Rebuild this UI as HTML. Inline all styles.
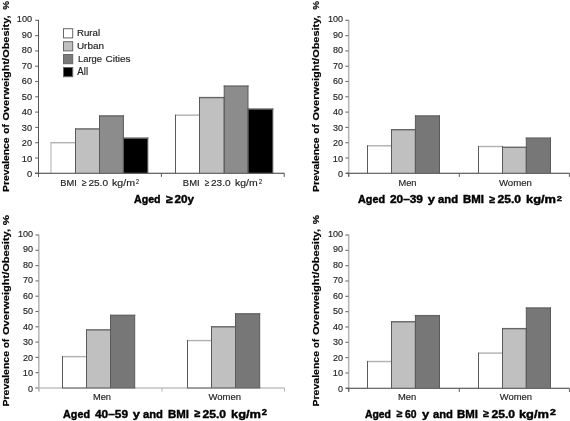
<!DOCTYPE html>
<html><head><meta charset="utf-8"><style>
html,body{margin:0;padding:0;background:#fff;}
svg{display:block;will-change:transform;}
text{font-family:"Liberation Sans", sans-serif;}
</style></head><body>
<svg width="570" height="421" viewBox="0 0 570 421">
<rect width="570" height="421" fill="#fff"/>
<rect x="38.00" y="19.80" width="1.0" height="156.80" fill="#555555"/>
<rect x="35.20" y="19.75" width="3" height="1.1" fill="#6a6a6a"/>
<rect x="35.20" y="35.05" width="3" height="1.1" fill="#6a6a6a"/>
<rect x="35.20" y="50.35" width="3" height="1.1" fill="#6a6a6a"/>
<rect x="35.20" y="65.65" width="3" height="1.1" fill="#6a6a6a"/>
<rect x="35.20" y="80.95" width="3" height="1.1" fill="#6a6a6a"/>
<rect x="35.20" y="96.25" width="3" height="1.1" fill="#6a6a6a"/>
<rect x="35.20" y="111.55" width="3" height="1.1" fill="#6a6a6a"/>
<rect x="35.20" y="126.85" width="3" height="1.1" fill="#6a6a6a"/>
<rect x="35.20" y="142.15" width="3" height="1.1" fill="#6a6a6a"/>
<rect x="35.20" y="157.45" width="3" height="1.1" fill="#6a6a6a"/>
<rect x="35.20" y="172.75" width="3" height="1.1" fill="#6a6a6a"/>
<rect x="35.00" y="172.70" width="249.50" height="1.2" fill="#5a5a5a"/>
<rect x="38.00" y="173.30" width="1" height="3.6" fill="#5a5a5a"/>
<rect x="160.90" y="173.30" width="1" height="3.6" fill="#5a5a5a"/>
<rect x="283.70" y="173.30" width="1" height="3.6" fill="#5a5a5a"/>
<rect x="51.00" y="142.70" width="24.50" height="30.60" fill="#ffffff"/>
<rect x="75.50" y="128.93" width="24.00" height="44.37" fill="#c0c0c0"/>
<rect x="99.50" y="115.93" width="23.90" height="57.38" fill="#8c8c8c"/>
<rect x="123.40" y="138.11" width="24.40" height="35.19" fill="#000000"/>
<rect x="50.50" y="142.00" width="25.50" height="1.4" fill="#b0b0b0"/>
<rect x="75.00" y="128.23" width="25.00" height="1.4" fill="#666666"/>
<rect x="99.00" y="115.23" width="24.90" height="1.4" fill="#666666"/>
<rect x="122.90" y="137.41" width="25.40" height="1.4" fill="#666666"/>
<rect x="50.50" y="142.20" width="1" height="31.10" fill="#b0b0b0"/>
<rect x="75.00" y="142.20" width="1" height="31.10" fill="#5a5a5a"/>
<rect x="75.00" y="128.43" width="1" height="44.87" fill="#5a5a5a"/>
<rect x="99.00" y="128.43" width="1" height="44.87" fill="#5a5a5a"/>
<rect x="99.00" y="115.43" width="1" height="57.88" fill="#5a5a5a"/>
<rect x="122.90" y="115.43" width="1" height="57.88" fill="#5a5a5a"/>
<rect x="122.90" y="137.61" width="1" height="35.69" fill="#5a5a5a"/>
<rect x="147.30" y="137.61" width="1" height="35.69" fill="#5a5a5a"/>
<rect x="50.50" y="172.70" width="97.80" height="1.1" fill="#666666"/>
<rect x="175.50" y="115.16" width="24.00" height="58.14" fill="#ffffff"/>
<rect x="199.50" y="97.57" width="24.70" height="75.73" fill="#c0c0c0"/>
<rect x="224.20" y="86.09" width="23.80" height="87.21" fill="#8c8c8c"/>
<rect x="248.00" y="109.04" width="24.80" height="64.26" fill="#000000"/>
<rect x="175.00" y="114.46" width="25.00" height="1.4" fill="#b0b0b0"/>
<rect x="199.00" y="96.87" width="25.70" height="1.4" fill="#666666"/>
<rect x="223.70" y="85.39" width="24.80" height="1.4" fill="#666666"/>
<rect x="247.50" y="108.34" width="25.80" height="1.4" fill="#666666"/>
<rect x="175.00" y="114.66" width="1" height="58.64" fill="#5a5a5a"/>
<rect x="199.00" y="114.66" width="1" height="58.64" fill="#5a5a5a"/>
<rect x="199.00" y="97.07" width="1" height="76.23" fill="#5a5a5a"/>
<rect x="223.70" y="97.07" width="1" height="76.23" fill="#5a5a5a"/>
<rect x="223.70" y="85.59" width="1" height="87.71" fill="#5a5a5a"/>
<rect x="247.50" y="85.59" width="1" height="87.71" fill="#5a5a5a"/>
<rect x="247.50" y="108.54" width="1" height="64.76" fill="#5a5a5a"/>
<rect x="272.30" y="108.54" width="1" height="64.76" fill="#5a5a5a"/>
<rect x="175.00" y="172.70" width="98.30" height="1.1" fill="#666666"/>
<rect x="347.95" y="19.80" width="1.5" height="156.80" fill="#b4b4b4"/>
<rect x="345.40" y="19.75" width="3" height="1.1" fill="#6a6a6a"/>
<rect x="345.40" y="35.05" width="3" height="1.1" fill="#6a6a6a"/>
<rect x="345.40" y="50.35" width="3" height="1.1" fill="#6a6a6a"/>
<rect x="345.40" y="65.65" width="3" height="1.1" fill="#6a6a6a"/>
<rect x="345.40" y="80.95" width="3" height="1.1" fill="#6a6a6a"/>
<rect x="345.40" y="96.25" width="3" height="1.1" fill="#6a6a6a"/>
<rect x="345.40" y="111.55" width="3" height="1.1" fill="#6a6a6a"/>
<rect x="345.40" y="126.85" width="3" height="1.1" fill="#6a6a6a"/>
<rect x="345.40" y="142.15" width="3" height="1.1" fill="#6a6a6a"/>
<rect x="345.40" y="157.45" width="3" height="1.1" fill="#6a6a6a"/>
<rect x="345.40" y="172.75" width="3" height="1.1" fill="#6a6a6a"/>
<rect x="346.00" y="172.70" width="223.50" height="1.2" fill="#5a5a5a"/>
<rect x="348.20" y="173.30" width="1" height="3.6" fill="#5a5a5a"/>
<rect x="458.80" y="173.30" width="1" height="3.6" fill="#5a5a5a"/>
<rect x="568.90" y="173.30" width="1" height="3.6" fill="#5a5a5a"/>
<rect x="367.50" y="145.76" width="24.00" height="27.54" fill="#ffffff"/>
<rect x="391.50" y="129.69" width="23.90" height="43.61" fill="#c0c0c0"/>
<rect x="415.40" y="115.93" width="24.10" height="57.38" fill="#777777"/>
<rect x="367.00" y="145.06" width="25.00" height="1.4" fill="#b0b0b0"/>
<rect x="391.00" y="129.00" width="24.90" height="1.4" fill="#666666"/>
<rect x="414.90" y="115.23" width="25.10" height="1.4" fill="#666666"/>
<rect x="367.00" y="145.26" width="1" height="28.04" fill="#5a5a5a"/>
<rect x="391.00" y="145.26" width="1" height="28.04" fill="#5a5a5a"/>
<rect x="391.00" y="129.19" width="1" height="44.11" fill="#5a5a5a"/>
<rect x="414.90" y="129.19" width="1" height="44.11" fill="#5a5a5a"/>
<rect x="414.90" y="115.43" width="1" height="57.88" fill="#5a5a5a"/>
<rect x="439.00" y="115.43" width="1" height="57.88" fill="#5a5a5a"/>
<rect x="367.00" y="172.70" width="73.00" height="1.1" fill="#666666"/>
<rect x="478.50" y="146.53" width="24.00" height="26.78" fill="#ffffff"/>
<rect x="502.50" y="147.29" width="23.80" height="26.01" fill="#c0c0c0"/>
<rect x="526.30" y="138.11" width="24.20" height="35.19" fill="#777777"/>
<rect x="478.00" y="145.83" width="25.00" height="1.4" fill="#b0b0b0"/>
<rect x="502.00" y="146.59" width="24.80" height="1.4" fill="#666666"/>
<rect x="525.80" y="137.41" width="25.20" height="1.4" fill="#666666"/>
<rect x="478.00" y="146.03" width="1" height="27.28" fill="#5a5a5a"/>
<rect x="502.00" y="146.03" width="1" height="27.28" fill="#5a5a5a"/>
<rect x="502.00" y="146.79" width="1" height="26.51" fill="#5a5a5a"/>
<rect x="525.80" y="146.79" width="1" height="26.51" fill="#5a5a5a"/>
<rect x="525.80" y="137.61" width="1" height="35.69" fill="#5a5a5a"/>
<rect x="550.00" y="137.61" width="1" height="35.69" fill="#5a5a5a"/>
<rect x="478.00" y="172.70" width="73.00" height="1.1" fill="#666666"/>
<rect x="38.05" y="234.50" width="1.5" height="156.80" fill="#b4b4b4"/>
<rect x="35.50" y="234.45" width="3" height="1.1" fill="#6a6a6a"/>
<rect x="35.50" y="249.75" width="3" height="1.1" fill="#6a6a6a"/>
<rect x="35.50" y="265.05" width="3" height="1.1" fill="#6a6a6a"/>
<rect x="35.50" y="280.35" width="3" height="1.1" fill="#6a6a6a"/>
<rect x="35.50" y="295.65" width="3" height="1.1" fill="#6a6a6a"/>
<rect x="35.50" y="310.95" width="3" height="1.1" fill="#6a6a6a"/>
<rect x="35.50" y="326.25" width="3" height="1.1" fill="#6a6a6a"/>
<rect x="35.50" y="341.55" width="3" height="1.1" fill="#6a6a6a"/>
<rect x="35.50" y="356.85" width="3" height="1.1" fill="#6a6a6a"/>
<rect x="35.50" y="372.15" width="3" height="1.1" fill="#6a6a6a"/>
<rect x="35.50" y="387.45" width="3" height="1.1" fill="#6a6a6a"/>
<rect x="35.00" y="387.40" width="249.50" height="1.2" fill="#b4b4b4"/>
<rect x="38.30" y="388.00" width="1" height="3.6" fill="#b4b4b4"/>
<rect x="161.50" y="388.00" width="1" height="3.6" fill="#b4b4b4"/>
<rect x="284.00" y="388.00" width="1" height="3.6" fill="#b4b4b4"/>
<rect x="62.50" y="356.63" width="24.00" height="31.37" fill="#ffffff"/>
<rect x="86.50" y="329.86" width="24.00" height="58.14" fill="#c0c0c0"/>
<rect x="110.50" y="315.32" width="24.20" height="72.68" fill="#777777"/>
<rect x="62.00" y="355.94" width="25.00" height="1.4" fill="#b0b0b0"/>
<rect x="86.00" y="329.16" width="25.00" height="1.4" fill="#666666"/>
<rect x="110.00" y="314.62" width="25.20" height="1.4" fill="#666666"/>
<rect x="62.00" y="356.13" width="1" height="31.87" fill="#5a5a5a"/>
<rect x="86.00" y="356.13" width="1" height="31.87" fill="#5a5a5a"/>
<rect x="86.00" y="329.36" width="1" height="58.64" fill="#5a5a5a"/>
<rect x="110.00" y="329.36" width="1" height="58.64" fill="#5a5a5a"/>
<rect x="110.00" y="314.82" width="1" height="73.18" fill="#5a5a5a"/>
<rect x="134.20" y="314.82" width="1" height="73.18" fill="#5a5a5a"/>
<rect x="62.00" y="387.40" width="73.20" height="1.1" fill="#666666"/>
<rect x="187.50" y="340.57" width="24.00" height="47.43" fill="#ffffff"/>
<rect x="211.50" y="326.80" width="24.00" height="61.20" fill="#c0c0c0"/>
<rect x="235.50" y="313.80" width="24.20" height="74.20" fill="#777777"/>
<rect x="187.00" y="339.87" width="25.00" height="1.4" fill="#b0b0b0"/>
<rect x="211.00" y="326.10" width="25.00" height="1.4" fill="#666666"/>
<rect x="235.00" y="313.10" width="25.20" height="1.4" fill="#666666"/>
<rect x="187.00" y="340.07" width="1" height="47.93" fill="#5a5a5a"/>
<rect x="211.00" y="340.07" width="1" height="47.93" fill="#5a5a5a"/>
<rect x="211.00" y="326.30" width="1" height="61.70" fill="#5a5a5a"/>
<rect x="235.00" y="326.30" width="1" height="61.70" fill="#5a5a5a"/>
<rect x="235.00" y="313.30" width="1" height="74.70" fill="#5a5a5a"/>
<rect x="259.20" y="313.30" width="1" height="74.70" fill="#5a5a5a"/>
<rect x="187.00" y="387.40" width="73.20" height="1.1" fill="#666666"/>
<rect x="347.95" y="234.50" width="1.5" height="157.10" fill="#b4b4b4"/>
<rect x="345.40" y="234.45" width="3" height="1.1" fill="#6a6a6a"/>
<rect x="345.40" y="249.78" width="3" height="1.1" fill="#6a6a6a"/>
<rect x="345.40" y="265.11" width="3" height="1.1" fill="#6a6a6a"/>
<rect x="345.40" y="280.44" width="3" height="1.1" fill="#6a6a6a"/>
<rect x="345.40" y="295.77" width="3" height="1.1" fill="#6a6a6a"/>
<rect x="345.40" y="311.10" width="3" height="1.1" fill="#6a6a6a"/>
<rect x="345.40" y="326.43" width="3" height="1.1" fill="#6a6a6a"/>
<rect x="345.40" y="341.76" width="3" height="1.1" fill="#6a6a6a"/>
<rect x="345.40" y="357.09" width="3" height="1.1" fill="#6a6a6a"/>
<rect x="345.40" y="372.42" width="3" height="1.1" fill="#6a6a6a"/>
<rect x="345.40" y="387.75" width="3" height="1.1" fill="#6a6a6a"/>
<rect x="346.00" y="387.70" width="223.50" height="1.2" fill="#5a5a5a"/>
<rect x="348.20" y="388.30" width="1" height="3.6" fill="#5a5a5a"/>
<rect x="458.80" y="388.30" width="1" height="3.6" fill="#5a5a5a"/>
<rect x="568.90" y="388.30" width="1" height="3.6" fill="#5a5a5a"/>
<rect x="367.50" y="361.53" width="24.00" height="26.77" fill="#ffffff"/>
<rect x="391.50" y="321.75" width="23.90" height="66.56" fill="#c0c0c0"/>
<rect x="415.40" y="315.62" width="24.10" height="72.68" fill="#777777"/>
<rect x="367.00" y="360.83" width="25.00" height="1.4" fill="#b0b0b0"/>
<rect x="391.00" y="321.05" width="24.90" height="1.4" fill="#666666"/>
<rect x="414.90" y="314.93" width="25.10" height="1.4" fill="#666666"/>
<rect x="367.00" y="361.03" width="1" height="27.27" fill="#5a5a5a"/>
<rect x="391.00" y="361.03" width="1" height="27.27" fill="#5a5a5a"/>
<rect x="391.00" y="321.25" width="1" height="67.06" fill="#5a5a5a"/>
<rect x="414.90" y="321.25" width="1" height="67.06" fill="#5a5a5a"/>
<rect x="414.90" y="315.12" width="1" height="73.18" fill="#5a5a5a"/>
<rect x="439.00" y="315.12" width="1" height="73.18" fill="#5a5a5a"/>
<rect x="367.00" y="387.70" width="73.00" height="1.1" fill="#666666"/>
<rect x="478.50" y="353.11" width="24.00" height="35.19" fill="#ffffff"/>
<rect x="502.50" y="328.63" width="23.80" height="59.67" fill="#c0c0c0"/>
<rect x="526.30" y="307.98" width="24.20" height="80.32" fill="#777777"/>
<rect x="478.00" y="352.41" width="25.00" height="1.4" fill="#b0b0b0"/>
<rect x="502.00" y="327.93" width="24.80" height="1.4" fill="#666666"/>
<rect x="525.80" y="307.28" width="25.20" height="1.4" fill="#666666"/>
<rect x="478.00" y="352.61" width="1" height="35.69" fill="#5a5a5a"/>
<rect x="502.00" y="352.61" width="1" height="35.69" fill="#5a5a5a"/>
<rect x="502.00" y="328.13" width="1" height="60.17" fill="#5a5a5a"/>
<rect x="525.80" y="328.13" width="1" height="60.17" fill="#5a5a5a"/>
<rect x="525.80" y="307.48" width="1" height="80.82" fill="#5a5a5a"/>
<rect x="550.00" y="307.48" width="1" height="80.82" fill="#5a5a5a"/>
<rect x="478.00" y="387.70" width="73.00" height="1.1" fill="#666666"/>
<rect x="63.5" y="28.70" width="9.2" height="9.2" fill="#ffffff" stroke="#666" stroke-width="1"/>
<rect x="63.5" y="41.70" width="9.2" height="9.2" fill="#c0c0c0" stroke="#666" stroke-width="1"/>
<rect x="63.5" y="54.50" width="9.2" height="9.2" fill="#7a7a7a" stroke="#666" stroke-width="1"/>
<rect x="63.5" y="67.50" width="9.2" height="9.2" fill="#000000" stroke="#666" stroke-width="1"/>
<text x="16.864" y="22.100" font-size="9.275" font-weight="normal" fill="#222" stroke="#222" stroke-width="0.15" textLength="15.202" lengthAdjust="spacingAndGlyphs">100</text>
<text x="21.872" y="37.600" font-size="9.275" font-weight="normal" fill="#222" stroke="#222" stroke-width="0.15" textLength="10.203" lengthAdjust="spacingAndGlyphs">90</text>
<text x="21.852" y="53.100" font-size="9.275" font-weight="normal" fill="#222" stroke="#222" stroke-width="0.15" textLength="10.203" lengthAdjust="spacingAndGlyphs">80</text>
<text x="21.852" y="68.600" font-size="9.275" font-weight="normal" fill="#222" stroke="#222" stroke-width="0.15" textLength="10.203" lengthAdjust="spacingAndGlyphs">70</text>
<text x="21.852" y="84.100" font-size="9.275" font-weight="normal" fill="#222" stroke="#222" stroke-width="0.15" textLength="10.203" lengthAdjust="spacingAndGlyphs">60</text>
<text x="21.852" y="99.600" font-size="9.275" font-weight="normal" fill="#222" stroke="#222" stroke-width="0.15" textLength="10.203" lengthAdjust="spacingAndGlyphs">50</text>
<text x="21.831" y="115.100" font-size="9.275" font-weight="normal" fill="#222" stroke="#222" stroke-width="0.15" textLength="10.306" lengthAdjust="spacingAndGlyphs">40</text>
<text x="21.852" y="130.600" font-size="9.275" font-weight="normal" fill="#222" stroke="#222" stroke-width="0.15" textLength="10.203" lengthAdjust="spacingAndGlyphs">30</text>
<text x="21.852" y="146.100" font-size="9.275" font-weight="normal" fill="#222" stroke="#222" stroke-width="0.15" textLength="10.203" lengthAdjust="spacingAndGlyphs">20</text>
<text x="21.765" y="161.600" font-size="9.275" font-weight="normal" fill="#222" stroke="#222" stroke-width="0.15" textLength="10.410" lengthAdjust="spacingAndGlyphs">10</text>
<text x="26.908" y="177.100" font-size="9.275" font-weight="normal" fill="#222" stroke="#222" stroke-width="0.15" textLength="5.208" lengthAdjust="spacingAndGlyphs">0</text>
<text x="327.933" y="22.100" font-size="9.275" font-weight="normal" fill="#222" stroke="#222" stroke-width="0.15" textLength="15.067" lengthAdjust="spacingAndGlyphs">100</text>
<text x="333.000" y="37.600" font-size="9.275" font-weight="normal" fill="#222" stroke="#222" stroke-width="0.15" textLength="10.000" lengthAdjust="spacingAndGlyphs">90</text>
<text x="333.000" y="53.100" font-size="9.275" font-weight="normal" fill="#222" stroke="#222" stroke-width="0.15" textLength="10.000" lengthAdjust="spacingAndGlyphs">80</text>
<text x="333.000" y="68.600" font-size="9.275" font-weight="normal" fill="#222" stroke="#222" stroke-width="0.15" textLength="10.000" lengthAdjust="spacingAndGlyphs">70</text>
<text x="333.000" y="84.100" font-size="9.275" font-weight="normal" fill="#222" stroke="#222" stroke-width="0.15" textLength="10.000" lengthAdjust="spacingAndGlyphs">60</text>
<text x="333.000" y="99.600" font-size="9.275" font-weight="normal" fill="#222" stroke="#222" stroke-width="0.15" textLength="10.000" lengthAdjust="spacingAndGlyphs">50</text>
<text x="333.000" y="115.100" font-size="9.275" font-weight="normal" fill="#222" stroke="#222" stroke-width="0.15" textLength="10.000" lengthAdjust="spacingAndGlyphs">40</text>
<text x="333.000" y="130.600" font-size="9.275" font-weight="normal" fill="#222" stroke="#222" stroke-width="0.15" textLength="10.000" lengthAdjust="spacingAndGlyphs">30</text>
<text x="333.000" y="146.100" font-size="9.275" font-weight="normal" fill="#222" stroke="#222" stroke-width="0.15" textLength="10.000" lengthAdjust="spacingAndGlyphs">20</text>
<text x="332.797" y="161.600" font-size="9.275" font-weight="normal" fill="#222" stroke="#222" stroke-width="0.15" textLength="10.203" lengthAdjust="spacingAndGlyphs">10</text>
<text x="338.000" y="177.100" font-size="9.275" font-weight="normal" fill="#222" stroke="#222" stroke-width="0.15" textLength="5.000" lengthAdjust="spacingAndGlyphs">0</text>
<text x="17.933" y="236.600" font-size="9.275" font-weight="normal" fill="#222" stroke="#222" stroke-width="0.15" textLength="15.067" lengthAdjust="spacingAndGlyphs">100</text>
<text x="23.000" y="252.100" font-size="9.275" font-weight="normal" fill="#222" stroke="#222" stroke-width="0.15" textLength="10.000" lengthAdjust="spacingAndGlyphs">90</text>
<text x="23.000" y="267.600" font-size="9.275" font-weight="normal" fill="#222" stroke="#222" stroke-width="0.15" textLength="10.000" lengthAdjust="spacingAndGlyphs">80</text>
<text x="23.000" y="283.100" font-size="9.275" font-weight="normal" fill="#222" stroke="#222" stroke-width="0.15" textLength="10.000" lengthAdjust="spacingAndGlyphs">70</text>
<text x="23.000" y="298.600" font-size="9.275" font-weight="normal" fill="#222" stroke="#222" stroke-width="0.15" textLength="10.000" lengthAdjust="spacingAndGlyphs">60</text>
<text x="23.000" y="314.100" font-size="9.275" font-weight="normal" fill="#222" stroke="#222" stroke-width="0.15" textLength="10.000" lengthAdjust="spacingAndGlyphs">50</text>
<text x="23.000" y="329.600" font-size="9.275" font-weight="normal" fill="#222" stroke="#222" stroke-width="0.15" textLength="10.000" lengthAdjust="spacingAndGlyphs">40</text>
<text x="23.000" y="345.100" font-size="9.275" font-weight="normal" fill="#222" stroke="#222" stroke-width="0.15" textLength="10.000" lengthAdjust="spacingAndGlyphs">30</text>
<text x="23.000" y="360.600" font-size="9.275" font-weight="normal" fill="#222" stroke="#222" stroke-width="0.15" textLength="10.000" lengthAdjust="spacingAndGlyphs">20</text>
<text x="22.797" y="376.100" font-size="9.275" font-weight="normal" fill="#222" stroke="#222" stroke-width="0.15" textLength="10.203" lengthAdjust="spacingAndGlyphs">10</text>
<text x="28.000" y="391.600" font-size="9.275" font-weight="normal" fill="#222" stroke="#222" stroke-width="0.15" textLength="5.000" lengthAdjust="spacingAndGlyphs">0</text>
<text x="327.933" y="236.600" font-size="9.275" font-weight="normal" fill="#222" stroke="#222" stroke-width="0.15" textLength="15.067" lengthAdjust="spacingAndGlyphs">100</text>
<text x="333.000" y="252.100" font-size="9.275" font-weight="normal" fill="#222" stroke="#222" stroke-width="0.15" textLength="10.000" lengthAdjust="spacingAndGlyphs">90</text>
<text x="333.000" y="267.600" font-size="9.275" font-weight="normal" fill="#222" stroke="#222" stroke-width="0.15" textLength="10.000" lengthAdjust="spacingAndGlyphs">80</text>
<text x="333.000" y="283.100" font-size="9.275" font-weight="normal" fill="#222" stroke="#222" stroke-width="0.15" textLength="10.000" lengthAdjust="spacingAndGlyphs">70</text>
<text x="333.000" y="298.600" font-size="9.275" font-weight="normal" fill="#222" stroke="#222" stroke-width="0.15" textLength="10.000" lengthAdjust="spacingAndGlyphs">60</text>
<text x="333.000" y="314.100" font-size="9.275" font-weight="normal" fill="#222" stroke="#222" stroke-width="0.15" textLength="10.000" lengthAdjust="spacingAndGlyphs">50</text>
<text x="333.000" y="329.600" font-size="9.275" font-weight="normal" fill="#222" stroke="#222" stroke-width="0.15" textLength="10.000" lengthAdjust="spacingAndGlyphs">40</text>
<text x="333.000" y="345.100" font-size="9.275" font-weight="normal" fill="#222" stroke="#222" stroke-width="0.15" textLength="10.000" lengthAdjust="spacingAndGlyphs">30</text>
<text x="333.000" y="360.600" font-size="9.275" font-weight="normal" fill="#222" stroke="#222" stroke-width="0.15" textLength="10.000" lengthAdjust="spacingAndGlyphs">20</text>
<text x="332.797" y="376.100" font-size="9.275" font-weight="normal" fill="#222" stroke="#222" stroke-width="0.15" textLength="10.203" lengthAdjust="spacingAndGlyphs">10</text>
<text x="338.000" y="391.600" font-size="9.275" font-weight="normal" fill="#222" stroke="#222" stroke-width="0.15" textLength="5.000" lengthAdjust="spacingAndGlyphs">0</text>
<text x="60.278" y="185.500" font-size="8.696" font-weight="normal" fill="#222" stroke="#222" stroke-width="0.15" textLength="16.444" lengthAdjust="spacingAndGlyphs">BMI</text>
<text x="81.726" y="185.500" font-size="9.833" font-weight="normal" fill="#222" stroke="#222" stroke-width="0.15" textLength="4.816" lengthAdjust="spacingAndGlyphs">≥</text>
<text x="88.407" y="185.500" font-size="8.696" font-weight="normal" fill="#222" stroke="#222" stroke-width="0.15" textLength="19.637" lengthAdjust="spacingAndGlyphs">25.0</text>
<text x="112.000" y="185.500" font-size="8.696" font-weight="normal" fill="#222" stroke="#222" stroke-width="0.15" textLength="23.000" lengthAdjust="spacingAndGlyphs">kg/m</text>
<text x="136.000" y="184.000" font-size="7.246" font-weight="normal" fill="#222" stroke="#222" stroke-width="0.15" textLength="3.000" lengthAdjust="spacingAndGlyphs">2</text>
<text x="182.880" y="185.500" font-size="8.696" font-weight="normal" fill="#222" stroke="#222" stroke-width="0.15" textLength="16.729" lengthAdjust="spacingAndGlyphs">BMI</text>
<text x="204.806" y="185.500" font-size="9.833" font-weight="normal" fill="#222" stroke="#222" stroke-width="0.15" textLength="4.521" lengthAdjust="spacingAndGlyphs">≥</text>
<text x="211.000" y="185.500" font-size="8.696" font-weight="normal" fill="#222" stroke="#222" stroke-width="0.15" textLength="19.574" lengthAdjust="spacingAndGlyphs">23.0</text>
<text x="235.000" y="185.500" font-size="8.696" font-weight="normal" fill="#222" stroke="#222" stroke-width="0.15" textLength="22.578" lengthAdjust="spacingAndGlyphs">kg/m</text>
<text x="258.967" y="184.000" font-size="7.826" font-weight="normal" fill="#222" stroke="#222" stroke-width="0.15" textLength="3.033" lengthAdjust="spacingAndGlyphs">2</text>
<text x="398.481" y="185.800" font-size="9.565" font-weight="normal" fill="#222" stroke="#222" stroke-width="0.15" textLength="18.072" lengthAdjust="spacingAndGlyphs">Men</text>
<text x="498.964" y="185.800" font-size="9.565" font-weight="normal" fill="#222" stroke="#222" stroke-width="0.15" textLength="33.036" lengthAdjust="spacingAndGlyphs">Women</text>
<text x="92.893" y="400.300" font-size="9.130" font-weight="normal" fill="#222" stroke="#222" stroke-width="0.15" textLength="18.107" lengthAdjust="spacingAndGlyphs">Men</text>
<text x="208.446" y="400.300" font-size="9.130" font-weight="normal" fill="#222" stroke="#222" stroke-width="0.15" textLength="32.554" lengthAdjust="spacingAndGlyphs">Women</text>
<text x="397.875" y="400.300" font-size="9.130" font-weight="normal" fill="#222" stroke="#222" stroke-width="0.15" textLength="18.260" lengthAdjust="spacingAndGlyphs">Men</text>
<text x="499.751" y="400.300" font-size="9.130" font-weight="normal" fill="#222" stroke="#222" stroke-width="0.15" textLength="32.249" lengthAdjust="spacingAndGlyphs">Women</text>
<text x="134.000" y="203.000" font-size="10.870" font-weight="bold" fill="#000" stroke="#000" stroke-width="0.4" textLength="26.554" lengthAdjust="spacingAndGlyphs">Aged</text>
<text x="166.000" y="203.300" font-size="11.514" font-weight="bold" fill="#000" stroke="#000" stroke-width="0.4" textLength="6.738" lengthAdjust="spacingAndGlyphs">≥</text>
<text x="174.425" y="203.000" font-size="10.870" font-weight="bold" fill="#000" stroke="#000" stroke-width="0.4" textLength="19.575" lengthAdjust="spacingAndGlyphs">20y</text>
<text x="358.000" y="202.900" font-size="10.290" font-weight="bold" fill="#000" stroke="#000" stroke-width="0.4" textLength="27.000" lengthAdjust="spacingAndGlyphs">Aged</text>
<text x="389.947" y="202.900" font-size="10.290" font-weight="bold" fill="#000" stroke="#000" stroke-width="0.4" textLength="33.053" lengthAdjust="spacingAndGlyphs">20–39</text>
<text x="427.774" y="202.900" font-size="10.290" font-weight="bold" fill="#000" stroke="#000" stroke-width="0.4" textLength="7.226" lengthAdjust="spacingAndGlyphs">y</text>
<text x="438.000" y="202.900" font-size="10.290" font-weight="bold" fill="#000" stroke="#000" stroke-width="0.4" textLength="20.000" lengthAdjust="spacingAndGlyphs">and</text>
<text x="463.000" y="202.900" font-size="10.290" font-weight="bold" fill="#000" stroke="#000" stroke-width="0.4" textLength="21.000" lengthAdjust="spacingAndGlyphs">BMI</text>
<text x="489.417" y="202.900" font-size="10.568" font-weight="bold" fill="#000" stroke="#000" stroke-width="0.4" textLength="5.762" lengthAdjust="spacingAndGlyphs">≥</text>
<text x="497.431" y="202.900" font-size="10.290" font-weight="bold" fill="#000" stroke="#000" stroke-width="0.4" textLength="23.616" lengthAdjust="spacingAndGlyphs">25.0</text>
<text x="526.000" y="202.900" font-size="10.290" font-weight="bold" fill="#000" stroke="#000" stroke-width="0.4" textLength="30.000" lengthAdjust="spacingAndGlyphs">kg/m</text>
<text x="556.789" y="201.000" font-size="8.116" font-weight="bold" fill="#000" stroke="#000" stroke-width="0.4" textLength="5.211" lengthAdjust="spacingAndGlyphs">2</text>
<text x="63.000" y="417.500" font-size="11.159" font-weight="bold" fill="#000" stroke="#000" stroke-width="0.4" textLength="27.000" lengthAdjust="spacingAndGlyphs">Aged</text>
<text x="94.947" y="417.500" font-size="11.159" font-weight="bold" fill="#000" stroke="#000" stroke-width="0.4" textLength="33.053" lengthAdjust="spacingAndGlyphs">40–59</text>
<text x="132.770" y="417.500" font-size="11.159" font-weight="bold" fill="#000" stroke="#000" stroke-width="0.4" textLength="7.230" lengthAdjust="spacingAndGlyphs">y</text>
<text x="143.000" y="417.500" font-size="11.159" font-weight="bold" fill="#000" stroke="#000" stroke-width="0.4" textLength="20.000" lengthAdjust="spacingAndGlyphs">and</text>
<text x="168.000" y="417.500" font-size="11.159" font-weight="bold" fill="#000" stroke="#000" stroke-width="0.4" textLength="21.000" lengthAdjust="spacingAndGlyphs">BMI</text>
<text x="194.351" y="417.200" font-size="11.041" font-weight="bold" fill="#000" stroke="#000" stroke-width="0.4" textLength="5.882" lengthAdjust="spacingAndGlyphs">≥</text>
<text x="202.431" y="417.500" font-size="11.159" font-weight="bold" fill="#000" stroke="#000" stroke-width="0.4" textLength="23.616" lengthAdjust="spacingAndGlyphs">25.0</text>
<text x="231.000" y="417.500" font-size="11.159" font-weight="bold" fill="#000" stroke="#000" stroke-width="0.4" textLength="30.000" lengthAdjust="spacingAndGlyphs">kg/m</text>
<text x="261.789" y="415.000" font-size="8.261" font-weight="bold" fill="#000" stroke="#000" stroke-width="0.4" textLength="5.211" lengthAdjust="spacingAndGlyphs">2</text>
<text x="364.933" y="417.500" font-size="11.159" font-weight="bold" fill="#000" stroke="#000" stroke-width="0.4" textLength="26.067" lengthAdjust="spacingAndGlyphs">Aged</text>
<text x="396.769" y="417.200" font-size="10.410" font-weight="bold" fill="#000" stroke="#000" stroke-width="0.4" textLength="5.762" lengthAdjust="spacingAndGlyphs">≥</text>
<text x="405.000" y="417.500" font-size="11.159" font-weight="bold" fill="#000" stroke="#000" stroke-width="0.4" textLength="11.547" lengthAdjust="spacingAndGlyphs">60</text>
<text x="422.000" y="417.500" font-size="11.159" font-weight="bold" fill="#000" stroke="#000" stroke-width="0.4" textLength="7.226" lengthAdjust="spacingAndGlyphs">y</text>
<text x="433.000" y="417.500" font-size="11.159" font-weight="bold" fill="#000" stroke="#000" stroke-width="0.4" textLength="20.000" lengthAdjust="spacingAndGlyphs">and</text>
<text x="457.000" y="417.500" font-size="11.159" font-weight="bold" fill="#000" stroke="#000" stroke-width="0.4" textLength="21.000" lengthAdjust="spacingAndGlyphs">BMI</text>
<text x="483.320" y="417.200" font-size="10.410" font-weight="bold" fill="#000" stroke="#000" stroke-width="0.4" textLength="5.771" lengthAdjust="spacingAndGlyphs">≥</text>
<text x="491.424" y="417.500" font-size="11.159" font-weight="bold" fill="#000" stroke="#000" stroke-width="0.4" textLength="23.664" lengthAdjust="spacingAndGlyphs">25.0</text>
<text x="518.959" y="417.500" font-size="11.159" font-weight="bold" fill="#000" stroke="#000" stroke-width="0.4" textLength="30.062" lengthAdjust="spacingAndGlyphs">kg/m</text>
<text x="550.000" y="415.000" font-size="8.261" font-weight="bold" fill="#000" stroke="#000" stroke-width="0.4" textLength="5.829" lengthAdjust="spacingAndGlyphs">2</text>
<text transform="translate(8.700,192.000) rotate(-90)" x="0" y="0" font-size="9.710" font-weight="bold" fill="#000" stroke="#000" stroke-width="0.2" textLength="54.527" lengthAdjust="spacingAndGlyphs">Prevalence</text>
<text transform="translate(8.700,133.745) rotate(-90)" x="0" y="0" font-size="9.710" font-weight="bold" fill="#000" stroke="#000" stroke-width="0.2" textLength="9.543" lengthAdjust="spacingAndGlyphs">of</text>
<text transform="translate(8.700,120.521) rotate(-90)" x="0" y="0" font-size="9.710" font-weight="bold" fill="#000" stroke="#000" stroke-width="0.2" textLength="105.046" lengthAdjust="spacingAndGlyphs">Overweight/Obesity,</text>
<text transform="translate(8.700,9.844) rotate(-90)" x="0" y="0" font-size="9.710" font-weight="bold" fill="#000" stroke="#000" stroke-width="0.2" textLength="8.688" lengthAdjust="spacingAndGlyphs">%</text>
<text transform="translate(319.000,192.000) rotate(-90)" x="0" y="0" font-size="9.710" font-weight="bold" fill="#000" stroke="#000" stroke-width="0.2" textLength="54.527" lengthAdjust="spacingAndGlyphs">Prevalence</text>
<text transform="translate(319.000,133.745) rotate(-90)" x="0" y="0" font-size="9.710" font-weight="bold" fill="#000" stroke="#000" stroke-width="0.2" textLength="9.543" lengthAdjust="spacingAndGlyphs">of</text>
<text transform="translate(319.000,120.521) rotate(-90)" x="0" y="0" font-size="9.710" font-weight="bold" fill="#000" stroke="#000" stroke-width="0.2" textLength="105.046" lengthAdjust="spacingAndGlyphs">Overweight/Obesity,</text>
<text transform="translate(319.000,9.844) rotate(-90)" x="0" y="0" font-size="9.710" font-weight="bold" fill="#000" stroke="#000" stroke-width="0.2" textLength="8.688" lengthAdjust="spacingAndGlyphs">%</text>
<text transform="translate(9.000,406.520) rotate(-90)" x="0" y="0" font-size="9.710" font-weight="bold" fill="#000" stroke="#000" stroke-width="0.2" textLength="55.555" lengthAdjust="spacingAndGlyphs">Prevalence</text>
<text transform="translate(9.000,348.000) rotate(-90)" x="0" y="0" font-size="9.710" font-weight="bold" fill="#000" stroke="#000" stroke-width="0.2" textLength="9.183" lengthAdjust="spacingAndGlyphs">of</text>
<text transform="translate(9.000,335.000) rotate(-90)" x="0" y="0" font-size="9.710" font-weight="bold" fill="#000" stroke="#000" stroke-width="0.2" textLength="106.017" lengthAdjust="spacingAndGlyphs">Overweight/Obesity,</text>
<text transform="translate(9.000,225.200) rotate(-90)" x="0" y="0" font-size="9.710" font-weight="bold" fill="#000" stroke="#000" stroke-width="0.2" textLength="10.200" lengthAdjust="spacingAndGlyphs">%</text>
<text transform="translate(319.200,406.520) rotate(-90)" x="0" y="0" font-size="9.855" font-weight="bold" fill="#000" stroke="#000" stroke-width="0.2" textLength="55.555" lengthAdjust="spacingAndGlyphs">Prevalence</text>
<text transform="translate(319.200,348.000) rotate(-90)" x="0" y="0" font-size="9.855" font-weight="bold" fill="#000" stroke="#000" stroke-width="0.2" textLength="9.091" lengthAdjust="spacingAndGlyphs">of</text>
<text transform="translate(319.200,335.000) rotate(-90)" x="0" y="0" font-size="9.855" font-weight="bold" fill="#000" stroke="#000" stroke-width="0.2" textLength="106.017" lengthAdjust="spacingAndGlyphs">Overweight/Obesity,</text>
<text transform="translate(319.200,224.180) rotate(-90)" x="0" y="0" font-size="9.855" font-weight="bold" fill="#000" stroke="#000" stroke-width="0.2" textLength="9.180" lengthAdjust="spacingAndGlyphs">%</text>
<text x="76.952" y="35.800" font-size="8.406" font-weight="normal" fill="#222" stroke="#222" stroke-width="0.15" textLength="23.103" lengthAdjust="spacingAndGlyphs">Rural</text>
<text x="76.953" y="48.800" font-size="8.406" font-weight="normal" fill="#222" stroke="#222" stroke-width="0.15" textLength="27.047" lengthAdjust="spacingAndGlyphs">Urban</text>
<text x="77.958" y="62.200" font-size="9.710" font-weight="normal" fill="#222" stroke="#222" stroke-width="0.15" textLength="24.042" lengthAdjust="spacingAndGlyphs">Large</text>
<text x="105.420" y="62.200" font-size="9.710" font-weight="normal" fill="#222" stroke="#222" stroke-width="0.15" textLength="25.161" lengthAdjust="spacingAndGlyphs">Cities</text>
<text x="77.340" y="75.200" font-size="10.000" font-weight="normal" fill="#222" stroke="#222" stroke-width="0.15" textLength="10.726" lengthAdjust="spacingAndGlyphs">All</text>
</svg>
</body></html>
